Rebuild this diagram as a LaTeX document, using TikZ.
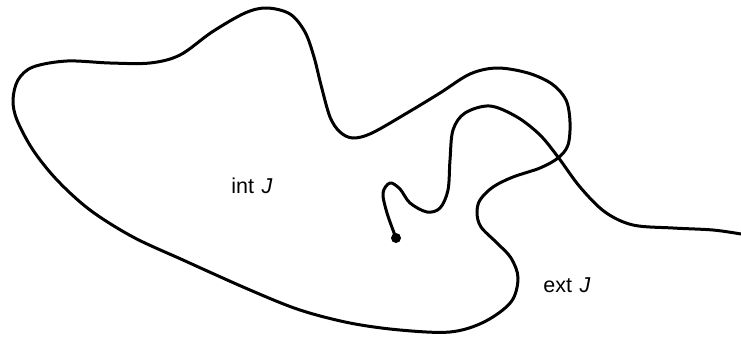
\documentclass[tikz,border=0pt]{standalone}
\usepackage{fontspec}
\setmainfont{Liberation Sans}
\begin{document}
\begin{tikzpicture}[x=1pt,y=-1pt,
  curve/.style={line width=3pt,line cap=round,line join=round},
  lbl/.style={font=\fontsize{21.5}{24}\selectfont,inner sep=0pt},
  pt/.style={circle,fill=black,inner sep=0pt,minimum size=10pt}]
\useasboundingbox (0,0) rectangle (741,341);
% Jordan curve J
\draw[curve] plot[smooth cycle,tension=0.55] coordinates {
 (267,8) (290,14) (305,32) (314,57) (321,85) (330,117) (340,132) (353,138)
 (372,133) (407,113) (440,93) (470,74) (497,68) (528,73) (552,84) (566,100)
 (570,122) (568,145) (558,158) (540,168) (513,177) (493,187) (480,200)
 (477,213) (481,227) (497,243) (511,258) (518,278) (511,302) (484,322)
 (450,332) (400,330) (350,323) (300,310) (250,290) (183,260) (133,237)
 (90,210) (57,180) (33,150) (17,120) (13,100) (18,80) (33,67) (67,61)
 (110,63) (150,63) (180,55) (212,32) (245,13)};
% arc from the dot
\node[pt] (p) at (396,238) {};
\draw[curve] plot[smooth,tension=0.55] coordinates {
 (p.center) (387,213) (383,193) (390,183) (400,189) (410,203) (427,212)
 (440,208) (448,190) (450,160) (453,130) (465,113) (490,106) (517,117)
 (540,135) (558,157) (580,187) (605,212) (633,225) (673,228) (713,230) (741,234)};
\node[lbl] (int) at (252,186) {int\hspace{0.35em}\textit{J}};
\node[lbl] (ext) at (567,285) {ext\hspace{0.35em}\textit{J}};
\end{tikzpicture}
\end{document}
